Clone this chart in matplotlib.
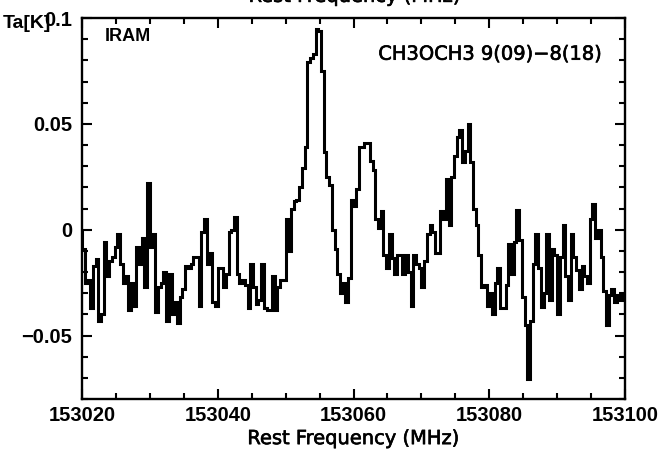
import numpy as np
import matplotlib
matplotlib.use("Agg")
import matplotlib.pyplot as plt
import matplotlib.patheffects as pe
from matplotlib.ticker import MultipleLocator, FixedLocator

plt.rcParams['font.family'] = ['Liberation Sans', 'DejaVu Sans']
plt.rcParams['font.weight'] = 'bold'

# ===== 数据 =====
F_START = 153020.0      # MHz, first channel edge
CHAN_W = 0.4            # MHz, channel width
TA = [  # antenna temperature per channel (K)
    -0.009, -0.025, -0.024, -0.037, -0.017, -0.014, -0.043, -0.040, -0.006, -0.022,
    -0.015, -0.013, -0.008, -0.002, -0.016, -0.025, -0.022, -0.038, -0.025, -0.036,
    -0.008, -0.016, -0.004, -0.027, 0.022, -0.008, -0.002, -0.039, -0.027, -0.025,
    -0.020, -0.043, -0.021, -0.040, -0.034, -0.044, -0.032, -0.028, -0.017, -0.018,
    -0.016, -0.013, -0.013, -0.036, -0.001, 0.005, -0.016, -0.011, -0.034, -0.036,
    -0.018, -0.018, -0.027, -0.021, -0.001, 0.000, 0.006, -0.021, -0.025, -0.024,
    -0.026, -0.037, -0.016, -0.027, -0.035, -0.033, -0.016, -0.037, -0.038, -0.038,
    -0.022, -0.038, -0.027, -0.024, -0.024, 0.005, -0.010, 0.010, 0.0135, 0.014,
    0.020, 0.029, 0.039, 0.079, 0.081, 0.083, 0.095, 0.094, 0.075, 0.0365,
    0.025, 0.021, 0.000, -0.009, -0.021, -0.030, -0.025, -0.034, -0.023, 0.014,
    0.011, 0.019, 0.039, 0.039, 0.041, 0.041, 0.0325, 0.028, 0.005, 0.001,
    0.009, -0.012, -0.018, -0.002, -0.0135, -0.021, -0.012, -0.012, -0.021, -0.012,
    -0.020, -0.036, -0.012, -0.016, -0.018, -0.027, -0.015, -0.002, 0.002, -0.001,
    -0.011, -0.011, 0.009, 0.005, 0.024, 0.002, 0.025, 0.035, 0.044, 0.047,
    0.032, 0.037, 0.050, 0.032, 0.010, 0.002, -0.012, -0.027, -0.026, -0.036,
    -0.030, -0.040, -0.025, -0.018, -0.037, -0.037, -0.026, -0.007, -0.021, -0.006,
    0.0095, -0.005, -0.032, -0.045, -0.0705, -0.043, -0.016, -0.002, -0.018, -0.0365,
    -0.030, -0.002, -0.033, -0.009, -0.012, -0.040, -0.013, 0.002, -0.022, -0.033,
    -0.002, -0.013, -0.019, -0.028, -0.017, -0.022, -0.025, 0.005, 0.012, -0.004,
    0.000, -0.013, -0.029, -0.045, -0.031, -0.028, -0.034, -0.031, -0.033, -0.031,
]
X_TICKS = [153020, 153040, 153060, 153080, 153100]
Y_TICKS = [-0.05, 0.0, 0.05, 0.1]
Y_TICK_LABELS = ["\u22120.05", "0", "0.05", "0.1"]
LINE_NAME = "CH3OCH3 9(09)\u22128(18)"
TELESCOPE = "IRAM"
# ================

# 轻微加粗的标签字体（原图笔画比常规体略粗）
THICK = [pe.withStroke(linewidth=0.45, foreground="black")]
LABEL_FONT = dict(family="DejaVu Sans", fontweight="normal", fontsize=14,
                  path_effects=THICK)


def main():
    ta = np.array(TA)
    edges = F_START + CHAN_W * np.arange(len(ta) + 1)

    fig = plt.figure(figsize=(6.63, 4.51), dpi=100)
    ax = fig.add_axes([0.1237, 0.1153, 0.819, 0.8447])

    ax.stairs(ta, edges, color="black", lw=2.2)

    ax.set_xlim(153020, 153100)
    ax.set_ylim(-0.08, 0.1)

    ax.xaxis.set_major_locator(FixedLocator(X_TICKS))
    ax.xaxis.set_minor_locator(MultipleLocator(5))
    ax.yaxis.set_major_locator(FixedLocator(Y_TICKS))
    ax.yaxis.set_minor_locator(MultipleLocator(0.01))
    ax.set_yticklabels(Y_TICK_LABELS)
    ax.set_xticklabels([str(v) for v in X_TICKS])

    ax.tick_params(which="both", direction="in", top=True, right=True,
                   width=1.5, labelsize=14.5)
    ax.tick_params(axis="x", which="major", length=7, pad=5)
    ax.tick_params(axis="y", which="major", length=7, pad=7)
    ax.tick_params(which="minor", length=4)
    for s in ax.spines.values():
        s.set_linewidth(1.7)

    ax.set_xlabel("Rest Frequency (MHz)", labelpad=3, **LABEL_FONT)
    # top label, cut by the figure edge like in the source
    fig.text(0.535, 1.008, "Rest Frequency (MHz)", ha="center", va="center",
             **LABEL_FONT)
    fig.text(0.041, 0.948, "Ta[K]", fontsize=14, ha="center", va="center")

    ax.text(0.042, 0.952, TELESCOPE, transform=ax.transAxes, fontsize=13,
            ha="left", va="center")
    ax.text(0.957, 0.905, LINE_NAME, transform=ax.transAxes, ha="right",
            va="center", **LABEL_FONT)

    fig.savefig("out.png", dpi=100)
    plt.close(fig)


if __name__ == "__main__":
    main()
